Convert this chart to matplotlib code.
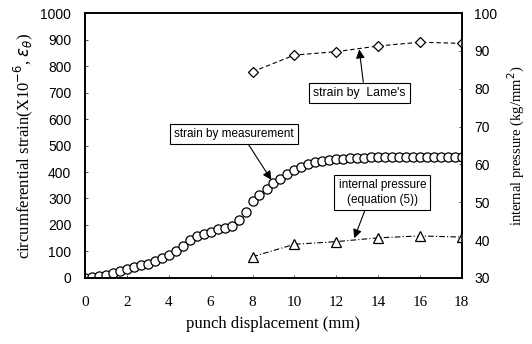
import numpy as np
import matplotlib.pyplot as plt

# measured strain (circles), left axis
disp = [0.00, 0.33, 0.67, 1.00, 1.33, 1.67, 2.00, 2.33, 2.67, 3.00,
        3.33, 3.67, 4.00, 4.33, 4.67, 5.00, 5.33, 5.67, 6.00, 6.33,
        6.67, 7.00, 7.33, 7.67, 8.00, 8.33, 8.67, 9.00, 9.33, 9.67,
        10.00, 10.33, 10.67, 11.00, 11.33, 11.67, 12.00, 12.33, 12.67, 13.00,
        13.33, 13.67, 14.00, 14.33, 14.67, 15.00, 15.33, 15.67, 16.00, 16.33,
        16.67, 17.00, 17.33, 17.67, 18.00]
strain = [0, 3, 7, 13, 19, 26, 33, 41, 48, 54,
          63, 75, 86, 101, 122, 142, 157, 166, 175, 184,
          189, 198, 218, 248, 292, 315, 337, 358, 374, 392,
          407, 420, 430, 436, 441, 445, 448, 450, 452, 453,
          454, 455, 456, 456, 456, 457, 456, 456, 456, 455,
          455, 455, 455, 455, 455]

# right axis series
disp2 = [8, 10, 12, 14, 16, 18]
lame = [84.5, 88.9, 89.8, 91.3, 92.3, 92.0]
pressure = [35.6, 38.9, 39.6, 40.6, 41.1, 40.8]

serif = 'Liberation Serif'
sans = 'Liberation Sans'

fig = plt.figure(figsize=(5.32, 3.44), dpi=100)
ax1 = fig.add_axes([0.160, 0.192, 0.708, 0.770])
ax2 = ax1.twinx()

ax1.plot(disp, strain, 'o', color='k', markerfacecolor='white', markersize=6.6,
         markeredgewidth=0.9, linestyle='none')
ax2.plot(disp2, lame, 'D', color='k', markerfacecolor='white', markersize=4.8,
         markeredgewidth=0.9, linestyle=(0, (4, 2.5)), linewidth=0.8)
ax2.plot(disp2, pressure, '^', color='k', markerfacecolor='white', markersize=7.5,
         markeredgewidth=0.9, linestyle=(0, (5, 2, 1, 2)), linewidth=0.8)

ax1.set_xlim(0, 18)
ax1.set_ylim(0, 1000)
ax2.set_ylim(30, 100)
ax1.set_xticks(range(0, 19, 2))
ax1.set_yticks(range(0, 1001, 100))
ax2.set_yticks(range(30, 101, 10))

for t in ax1.get_xticklabels():
    t.set_fontfamily(serif)
    t.set_fontsize(11)
for t in ax1.get_yticklabels() + ax2.get_yticklabels():
    t.set_fontfamily(sans)
    t.set_fontsize(10)

ax1.tick_params(axis='x', direction='in', length=2, width=0.5, pad=13)
ax1.tick_params(axis='y', direction='in', length=2, width=0.5, pad=10)
ax2.tick_params(axis='y', direction='in', length=2, width=0.5, pad=9)
for ax in (ax1, ax2):
    for s in ax.spines.values():
        s.set_linewidth(1.2)

ax1.set_xlabel('punch displacement (mm)', fontfamily=serif, fontsize=12, labelpad=5)
ax1.set_ylabel(r'circumferential strain(X10$^{-6}$, $\varepsilon_\theta$)',
               fontfamily=serif, fontsize=12, labelpad=4)
ax2.set_ylabel(r'internal pressure (kg/mm$^2$)', fontfamily=serif, fontsize=10.5,
               rotation=90, labelpad=6)

box = dict(boxstyle='square,pad=0.35', facecolor='white', edgecolor='k', linewidth=0.8)
arrow = dict(arrowstyle='-|>', color='k', lw=0.8, mutation_scale=13, shrinkA=0, shrinkB=0)

ax1.annotate('strain by measurement', xy=(8.9, 370), xytext=(7.1, 543),
             ha='center', va='center', fontfamily=sans, fontsize=8.5, bbox=box,
             arrowprops=dict(arrow, relpos=(0.6, 0)))
ax2.annotate("strain by  Lame's", xy=(13.1, 90.4), xytext=(13.1, 78.9),
             ha='center', va='center', fontfamily=sans, fontsize=8.8, bbox=box,
             arrowprops=dict(arrow, relpos=(0.55, 1)))
ax2.annotate('internal pressure\n(equation (5))', xy=(12.86, 40.5), xytext=(14.2, 52.5),
             ha='center', va='center', fontfamily=sans, fontsize=8.5, bbox=box,
             linespacing=1.3, arrowprops=dict(arrow, relpos=(0.32, 0)))

fig.savefig('out.png', dpi=100)
